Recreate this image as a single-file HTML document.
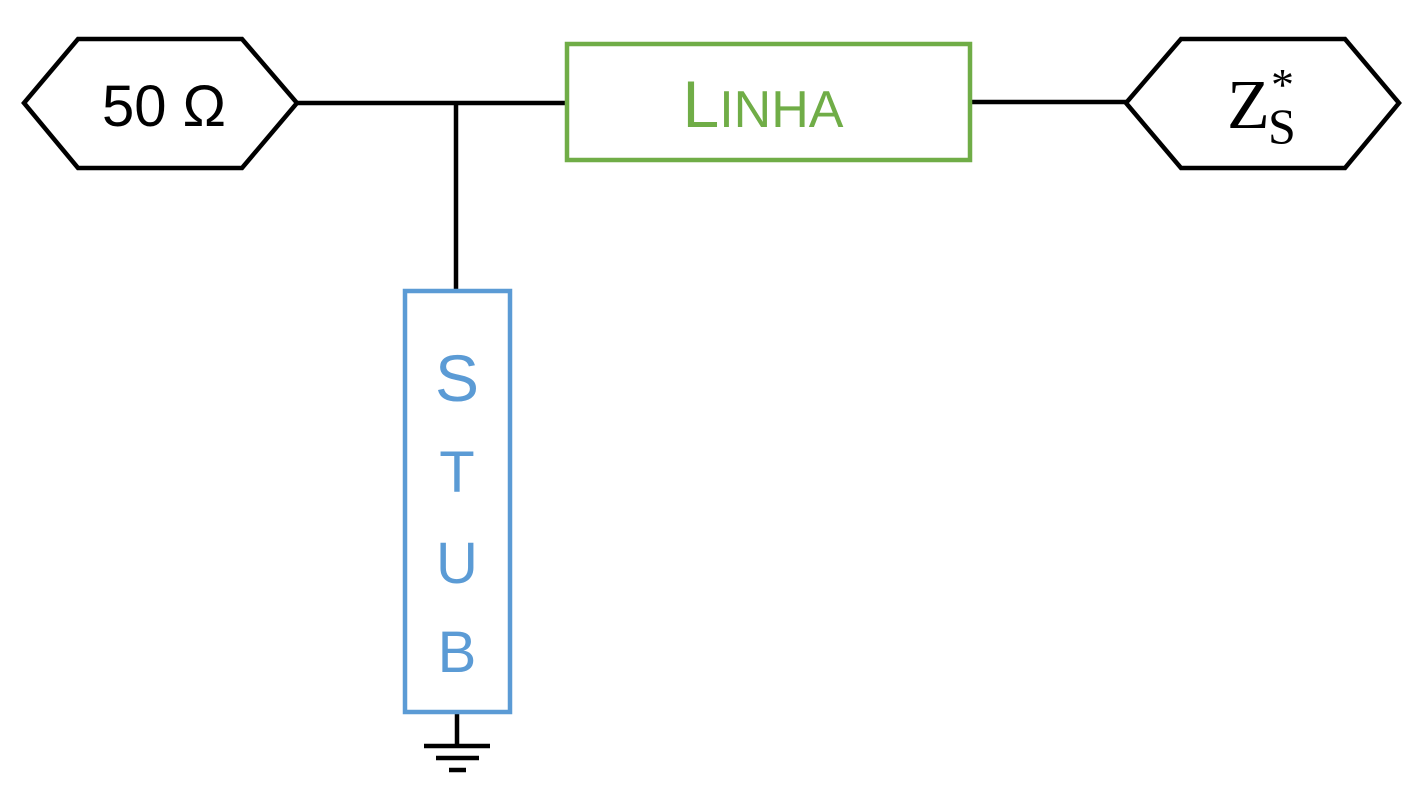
<!DOCTYPE html>
<html><head><style>body{margin:0;background:#fff}svg{display:block}</style></head>
<body>
<svg width="1424" height="800" viewBox="0 0 1424 800" xmlns="http://www.w3.org/2000/svg">
<g fill="none" stroke="#000" stroke-width="4.5">
<polygon points="24,103 78,39 242,39 297,103 242,168 78,168" fill="#fff"/>
<polygon points="1126,103 1181,39 1345,39 1399,103 1345,168 1181,168" fill="#fff"/>
<line x1="297" y1="103" x2="567" y2="103"/>
<line x1="456" y1="103" x2="456" y2="291"/>
<line x1="970" y1="102" x2="1126" y2="102"/>
<line x1="457" y1="712" x2="457" y2="746"/>
<line x1="424" y1="746" x2="490" y2="746"/>
<line x1="436" y1="758" x2="479" y2="758"/>
<line x1="449" y1="770" x2="466" y2="770"/>
</g>
<rect x="567" y="44" width="403" height="116" fill="#fff" stroke="#70ad47" stroke-width="4.5"/>
<rect x="405" y="291" width="105" height="421" fill="#fff" stroke="#5b9bd5" stroke-width="4.5"/>
<g font-family="'Liberation Sans',sans-serif">
<text x="164" y="126" font-size="58" text-anchor="middle" fill="#000">50 Ω</text>
<text x="763" y="127" text-anchor="middle" fill="#70ad47"><tspan font-size="66">L</tspan><tspan font-size="52">INHA</tspan></text>
<g fill="#5b9bd5" text-anchor="middle">
<text x="457" y="401" font-size="66">S</text>
<text x="457" y="492" font-size="58">T</text>
<text x="457" y="583" font-size="58">U</text>
<text x="457" y="672" font-size="58">B</text>
</g>
</g>
<g font-family="'Liberation Serif',serif" fill="#000">
<text x="1227" y="128" font-size="70">Z</text>
<text x="1268" y="143" font-size="50">S</text>
<text x="1271" y="100" font-size="46">*</text>
</g>
</svg>
</body></html>
